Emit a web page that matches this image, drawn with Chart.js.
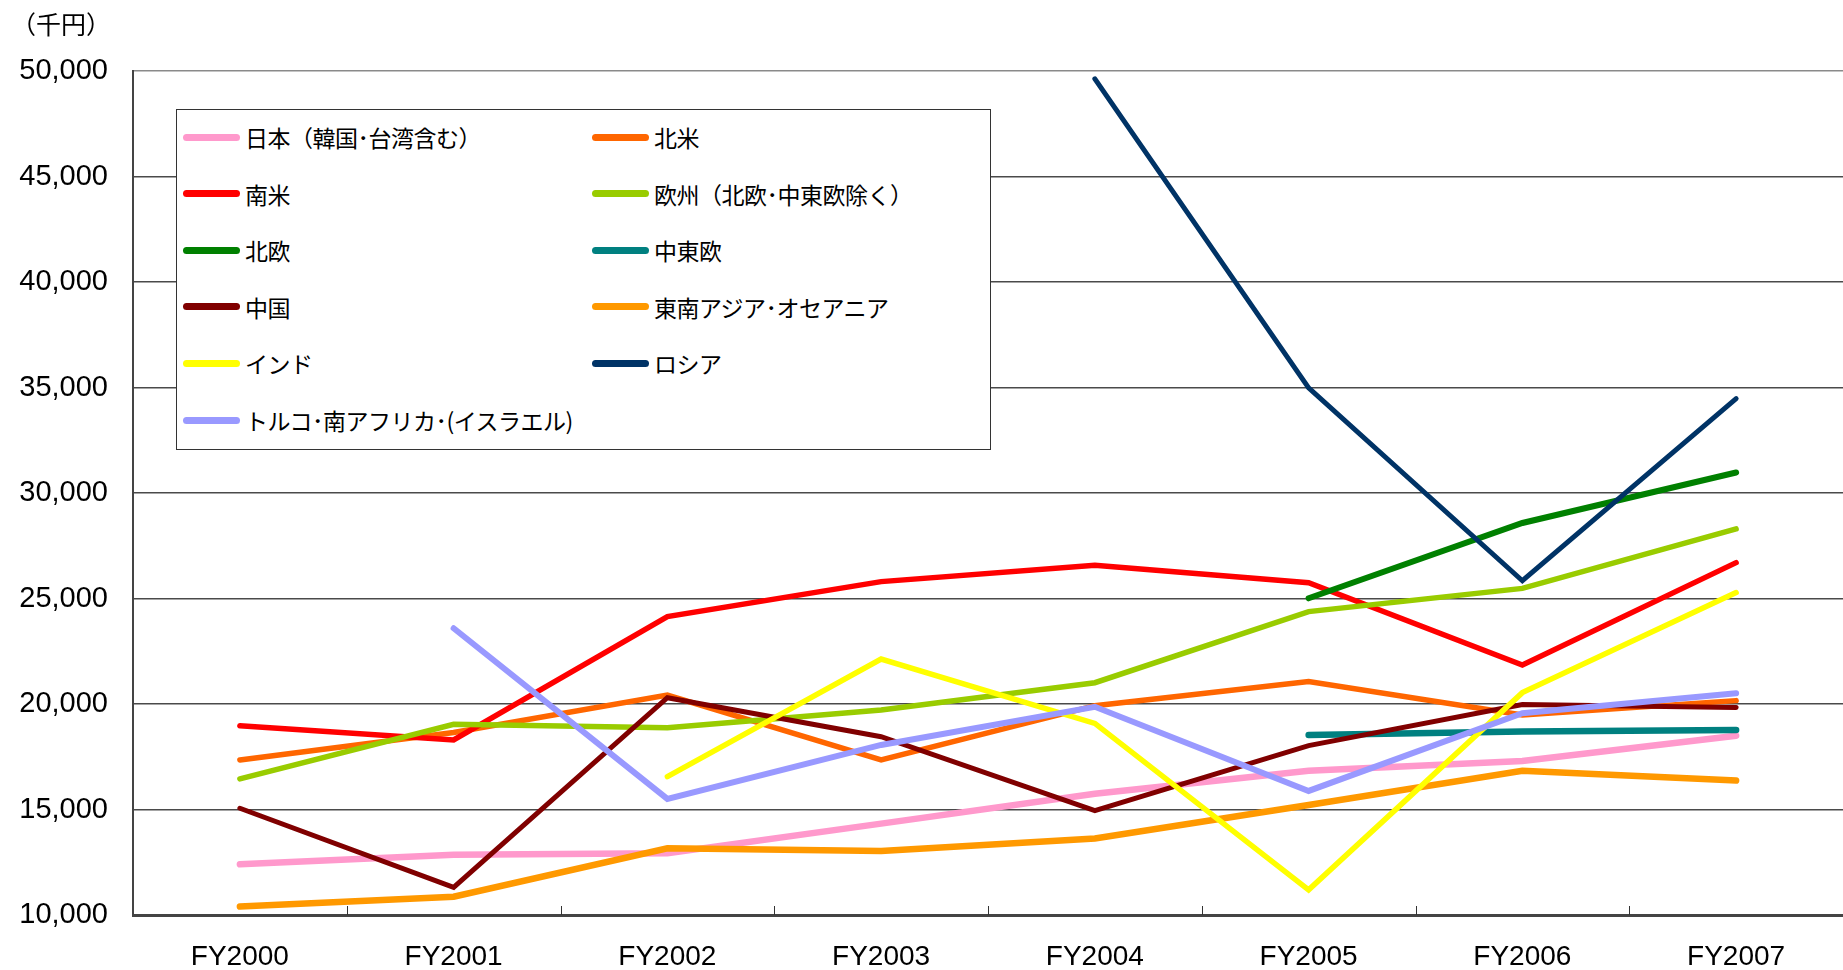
<!DOCTYPE html>
<html>
<head>
<meta charset="utf-8">
<script src="https://cdn.jsdelivr.net/npm/chart.js@4"></script>
<style>
  html, body { margin: 0; padding: 0; background: #fff; }
  #wrap { position: relative; width: 1843px; height: 970px; }
  #unit { position: absolute; left: 11px; top: 5px; font: 25px "Noto Sans CJK JP", sans-serif; color: #000; }
  #legend { position: absolute; left: 176px; top: 109px; width: 815px; height: 341px;
            border: 1px solid #333; background: #fff; box-sizing: border-box; }
  .item { position: absolute; height: 30px; display: flex; align-items: center; }
  .sw { width: 57px; height: 7px; border-radius: 4px; margin-right: 5px; }
  .lbl { font: 23px "Noto Sans CJK JP", sans-serif; color: #000; white-space: nowrap; letter-spacing: -0.5px; }
</style>
</head>
<body>
<div id="wrap">
  <canvas id="line-chart" width="1843" height="970"></canvas>
  <div id="unit">（千円）</div>
  <div id="legend"></div>
</div>
<script>
// categories
var years = ["FY2000", "FY2001", "FY2002", "FY2003", "FY2004", "FY2005", "FY2006", "FY2007"];

// series (千円)
var japan        = [12400, 12850, 12930, 14330, 15750, 16840, 17300, 18500];
var northAmerica = [17350, 18650, 20420, 17350, 19920, 21060, 19480, 20160];
var southAmerica = [18970, 18300, 24140, 25800, 26580, 25750, 21850, 26700];
var europe       = [16450, 19040, 18870, 19720, 21010, 24380, 25480, 28300];
var nordic       = [null, null, null, null, null, 25010, 28580, 30970];
var centralEast  = [null, null, null, null, null, 18530, 18700, 18770];
var china        = [15060, 11310, 20300, 18450, 14950, 18030, 19980, 19830];
var seAsia       = [10400, 10870, 13160, 13030, 13630, 15210, 16840, 16370];
var india        = [null, null, 16560, 22130, 19080, 11190, 20540, 25280];
var russia       = [null, null, null, null, 49630, 34980, 25840, 34470];
var turkey       = [null, 23590, 15500, 18060, 19870, 15880, 19560, 20510];

var names = ["日本（韓国･台湾含む）", "北米", "南米", "欧州（北欧･中東欧除く）", "北欧", "中東欧",
             "中国", "東南アジア･オセアニア", "インド", "ロシア", "トルコ･南アフリカ･(イスラエル)"];
var series = [japan, northAmerica, southAmerica, europe, nordic, centralEast, china, seAsia, india, russia, turkey];
var colors = ["#ff99cc", "#ff6600", "#ff0000", "#99cc00", "#008000", "#008080",
              "#800000", "#ff9900", "#ffff00", "#003366", "#9999ff"];
var widths = [6.5, 5.5, 5.5, 5.5, 6, 6.5, 5, 6.5, 5.5, 5, 6];

var yTicks = { min: 10000, max: 50000, step: 5000 };

// small upward tick marks on the category boundaries
var innerTicks = {
  id: 'innerTicks',
  afterDatasetsDraw: function(chart) {
    var x = chart.scales.x, ctx = chart.ctx, b = chart.chartArea.bottom;
    ctx.save();
    ctx.strokeStyle = '#333';
    ctx.lineWidth = 1;
    for (var i = 1; i < years.length; i++) {
      var px = Math.round((x.getPixelForValue(i - 1) + x.getPixelForValue(i)) / 2) + 0.5;
      ctx.beginPath();
      ctx.moveTo(px, b);
      ctx.lineTo(px, b - 9);
      ctx.stroke();
    }
    ctx.restore();
  }
};

new Chart(document.getElementById("line-chart"), {
  type: 'line',
  data: {
    labels: years,
    datasets: series.map(function(d, i) {
      return {
        label: names[i],
        data: d,
        borderColor: colors[i],
        backgroundColor: colors[i],
        borderWidth: widths[i],
        borderCapStyle: 'round',
        borderJoinStyle: 'miter',
        pointRadius: 0,
        fill: false,
        tension: 0,
        order: series.length - i
      };
    })
  },
  options: {
    responsive: false,
    animation: false,
    layout: { padding: { top: 71, right: 0, left: 0, bottom: 0 } },
    plugins: {
      legend: { display: false },
      tooltip: { enabled: false }
    },
    scales: {
      x: {
        offset: true,
        grid: { display: false },
        border: { display: true, color: '#444', width: 3 },
        ticks: {
          color: '#000',
          padding: 17,
          maxRotation: 0,
          font: { family: "'Liberation Sans', Arial, sans-serif", size: 28 }
        },
        afterFit: function(s) { s.height = 55; }
      },
      y: {
        min: yTicks.min,
        max: yTicks.max,
        grid: {
          drawTicks: false,
          lineWidth: 1.5,
          color: function(c) { return c.tick && c.tick.value === yTicks.max ? '#8a8a8a' : '#4a4a4a'; }
        },
        border: { display: true, color: '#444', width: 2 },
        ticks: {
          stepSize: yTicks.step,
          color: '#000',
          padding: 25,
          font: { family: "'Liberation Sans', Arial, sans-serif", size: 29 },
          callback: function(v) { return v.toLocaleString('en-US'); }
        },
        afterFit: function(s) { s.width = 133; }
      }
    }
  },
  plugins: [innerTicks]
});

// legend box inside the plot, two columns
var legend = document.getElementById('legend');
names.forEach(function(n, i) {
  var col = i % 2, row = Math.floor(i / 2);
  var it = document.createElement('div');
  it.className = 'item';
  it.style.left = (col === 0 ? 6 : 415) + 'px';
  it.style.top = (12 + row * 56.6) + 'px';
  it.innerHTML = '<div class="sw" style="background:' + colors[i] + '"></div><span class="lbl">' + n + '</span>';
  legend.appendChild(it);
});
</script>
</body>
</html>
